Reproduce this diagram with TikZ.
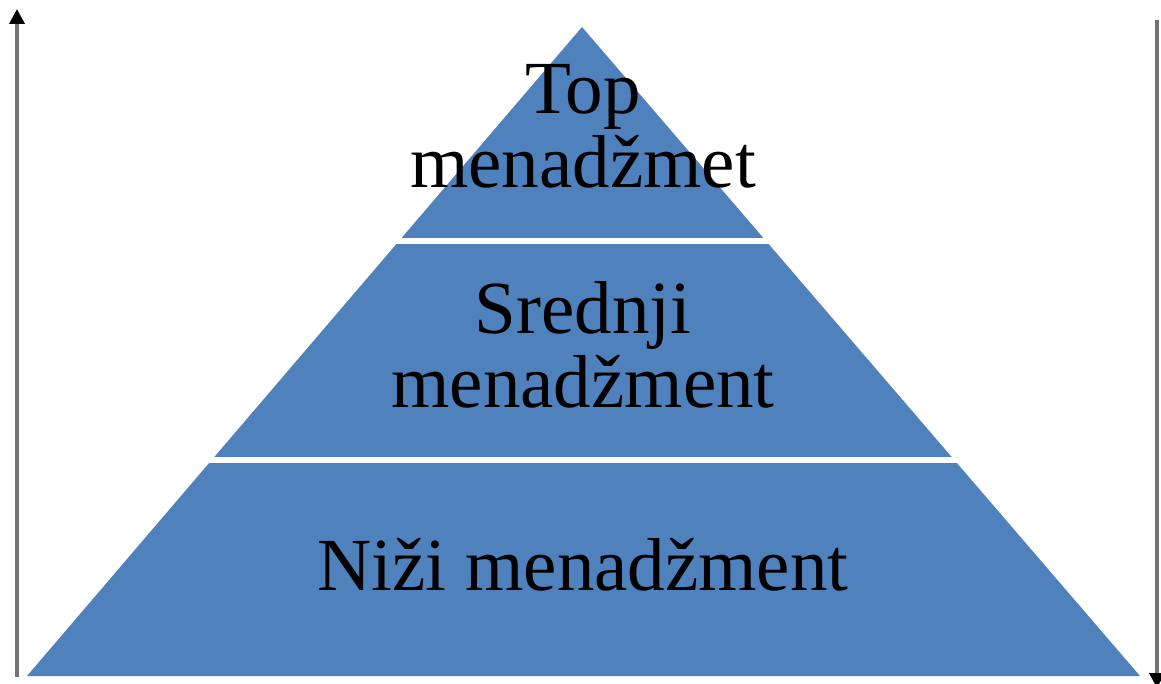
\documentclass[tikz,border=0pt]{standalone}
\usepackage{fontspec}
\setmainfont{Liberation Serif}
\usetikzlibrary{arrows.meta}
\definecolor{pyrblue}{HTML}{4F81BD}
\tikzset{
  level/.style={align=center,anchor=base,inner sep=0pt,font=\fontsize{75}{74}\selectfont},
  axis/.style={draw=black!55,line width=3.5pt},
  axistip/.style={-{Triangle[width=15pt,length=15pt,color=black]}},
}
\begin{document}
\begin{tikzpicture}[x=1pt,y=-1pt]
        \useasboundingbox (0,0) rectangle (1161,684);
        \begin{scope}
          \clip (582,27) -- (1140,676) -- (27,676) -- cycle;
          \fill[pyrblue] (0,0) rectangle (1161,238);
          \fill[pyrblue] (0,244) rectangle (1161,457);
          \fill[pyrblue] (0,463) rectangle (1161,684);
        \end{scope}
        \node[level] (top) at (583,188) {Top\\menadžmet};
        \node[level] (mid) at (583,407) {Srednji\\menadžment};
        \node[level] (low) at (583,590) {Niži menadžment};
        \coordinate (lb) at (17,677);
        \coordinate (lt) at (17,9);
        \coordinate (rt) at (1157,20);
        \coordinate (rb) at (1157,688);
        \draw[axis,axistip] (lb) -- (lt);
        \draw[axis,axistip] (rt) -- (rb);
\end{tikzpicture}
\end{document}
